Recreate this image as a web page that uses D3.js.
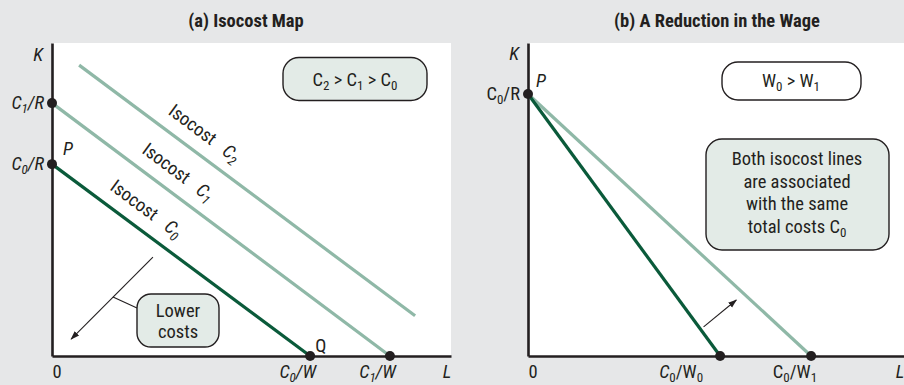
<!DOCTYPE html>
<html><head><meta charset="utf-8">
<script src="https://cdn.jsdelivr.net/npm/d3@7"></script>
<style>
html,body{margin:0;padding:0;background:#e6e7e8;}
text{font-family:"Liberation Sans Narrow","Roboto Condensed","DejaVu Sans Condensed","Arial Narrow",sans-serif;fill:#231f20;}
</style></head>
<body><svg id="c" width="904" height="385"></svg>
<script>
// ---------- data ----------
const titles = ["(a) Isocost Map", "(b) A Reduction in the Wage"];
// Panel (a): isocost lines C0, C1, C2 (K and L intercepts, drawn segment)
const isoIndex = ["0", "1", "2"];
const kIntercepts = [6.13, 8.08, 9.94];
const lIntercepts = [6.47, 8.47, 10.45];
const segStartL = [0, 0, 0.68];
const segEndL = [6.47, 8.47, 9.10];
const labelStartL = [1.22, 2.02, 2.68];
const dotKs = [6.13, 8.08];
const dotLs = [6.47, 8.47];
// Panel (b): wage reduction
const kInterceptB = 8.37;
const lInterceptsB = [5.11, 7.53];
const wageIndex = ["0", "1"];
const boxTextB = ["Both isocost lines", "are associated", "with the same", "total costs C"];
const lowerCostsText = ["Lower", "costs"];
// arrows (data coords): [fromL, fromK, toL, toK]
const arrowA = [2.53, 3.16, 0.48, 0.54];
const arrowB = [4.67, 0.93, 5.54, 1.79];

// ---------- setup ----------
const svg = d3.select("#c");
const DARK = "#0a5a3a", LIGHT = "#8fb8a7", INK = "#231f20", BOXFILL = "#e3ebe7";
const FS = 18.5, SFS = 13;
svg.append("rect").attr("width", 904).attr("height", 385).attr("fill", "#e6e7e8");

const xA = d3.scaleLinear().domain([0, 10]).range([52, 451]);
const xB = d3.scaleLinear().domain([0, 10]).range([528, 904]);
const y = d3.scaleLinear().domain([0, 10]).range([356, 43]);

svg.append("defs").append("marker").attr("id", "ah")
  .attr("viewBox", "0 0 10 10").attr("refX", 9).attr("refY", 5)
  .attr("markerWidth", 9).attr("markerHeight", 9).attr("markerUnits", "userSpaceOnUse")
  .attr("orient", "auto")
  .append("path").attr("d", "M0,1.5L10,5L0,8.5Z").attr("fill", INK);

// white plot areas
[xA, xB].forEach(x => {
  svg.append("rect").attr("x", x(0)).attr("y", y(10))
    .attr("width", x(10) - x(0)).attr("height", y(0) - y(10)).attr("fill", "#fff");
});

// titles
svg.append("text").attr("x", 246).attr("y", 27).attr("text-anchor", "middle")
  .attr("font-size", 18.5).attr("font-weight", "bold").text(titles[0]);
svg.append("text").attr("x", 717).attr("y", 27).attr("text-anchor", "middle")
  .attr("font-size", 18.5).attr("font-weight", "bold").text(titles[1]);

// ---------- Panel (a) ----------
const gA = svg.append("g");
isoIndex.forEach((c, i) => {
  const slope = -kIntercepts[i] / lIntercepts[i];
  const k = L => kIntercepts[i] + slope * L;
  gA.append("line")
    .attr("x1", xA(segStartL[i])).attr("y1", y(k(segStartL[i])))
    .attr("x2", xA(segEndL[i])).attr("y2", y(k(segEndL[i])))
    .attr("stroke", i === 0 ? DARK : LIGHT).attr("stroke-width", 3.2);
  const ang = Math.atan2(y(k(10)) - y(k(0)), xA(10) - xA(0));
  const deg = ang * 180 / Math.PI;
  const px = xA(labelStartL[i]) + Math.sin(ang) * 14;
  const py = y(k(labelStartL[i])) - Math.cos(ang) * 14;
  const t = gA.append("text").attr("font-size", FS)
    .attr("transform", `translate(${px},${py}) rotate(${deg})`);
  t.append("tspan").text("Isocost");
  t.append("tspan").attr("dx", 13).attr("font-style", "italic").text("C");
  t.append("tspan").attr("dy", 4).attr("font-size", SFS).attr("font-style", "italic").text(c);
});

// axes
gA.append("g").attr("transform", `translate(0,${y(0)})`)
  .call(d3.axisBottom(xA).tickValues([]).tickSizeOuter(0));
gA.append("g").attr("transform", `translate(${xA(0)},0)`)
  .call(d3.axisLeft(y).tickValues([]).tickSizeOuter(0));
svg.append("g").attr("transform", `translate(0,${y(0)})`)
  .call(d3.axisBottom(xB).tickValues([]).tickSizeOuter(0));
svg.append("g").attr("transform", `translate(${xB(0)},0)`)
  .call(d3.axisLeft(y).tickValues([]).tickSizeOuter(0));
svg.selectAll(".domain").attr("stroke", INK).attr("stroke-width", 2.6);

dotKs.forEach(k => gA.append("circle").attr("cx", xA(0)).attr("cy", y(k)).attr("r", 5).attr("fill", INK));
dotLs.forEach(l => gA.append("circle").attr("cx", xA(l)).attr("cy", y(0)).attr("r", 5).attr("fill", INK));

gA.append("text").attr("x", xA(0) - 9).attr("y", 61).attr("text-anchor", "end")
  .attr("font-size", FS).attr("font-style", "italic").text("K");
dotKs.forEach((k, i) => {
  const t = gA.append("text").attr("x", xA(0) - 8).attr("y", y(k) + 6).attr("text-anchor", "end")
    .attr("font-size", FS).attr("font-style", "italic");
  t.append("tspan").text("C");
  t.append("tspan").attr("dy", 4).attr("font-size", SFS).text(isoIndex[i]);
  t.append("tspan").attr("dy", -4).text("/R");
});
dotLs.forEach((l, i) => {
  const t = gA.append("text").attr("x", xA(l) + 6).attr("y", 378).attr("text-anchor", "end")
    .attr("font-size", FS).attr("font-style", "italic");
  t.append("tspan").text("C");
  t.append("tspan").attr("dy", 4).attr("font-size", SFS).text(isoIndex[i]);
  t.append("tspan").attr("dy", -4).text("/W");
});
gA.append("text").attr("x", xA(0) + 5).attr("y", 378).attr("text-anchor", "middle").attr("font-size", FS).text("0");
gA.append("text").attr("x", xA(10) - 4).attr("y", 378).attr("text-anchor", "middle").attr("font-size", FS).attr("font-style", "italic").text("L");
gA.append("text").attr("x", xA(0) + 11).attr("y", y(dotKs[0]) - 9).attr("font-size", FS).attr("font-style", "italic").text("P");
gA.append("text").attr("x", xA(dotLs[0]) + 5).attr("y", y(0) - 4).attr("font-size", FS).text("Q");

// C2 > C1 > C0 box
gA.append("rect").attr("x", 283).attr("y", 57.5).attr("width", 144).attr("height", 43).attr("rx", 16)
  .attr("fill", BOXFILL).attr("stroke", INK).attr("stroke-width", 1.4);
{
  const t = gA.append("text").attr("x", 355).attr("y", 86).attr("text-anchor", "middle").attr("font-size", FS);
  [2, 1, 0].forEach((n, j) => {
    t.append("tspan").attr("dy", j === 0 ? 0 : -4).text((j === 0 ? "" : " > ") + "C");
    t.append("tspan").attr("dy", 4).attr("font-size", SFS).text(isoIndex[n]);
  });
}

// Lower costs arrow & box
gA.append("line").attr("x1", xA(arrowA[0])).attr("y1", y(arrowA[1]))
  .attr("x2", xA(arrowA[2])).attr("y2", y(arrowA[3]))
  .attr("stroke", INK).attr("stroke-width", 1.1).attr("marker-end", "url(#ah)");
gA.append("line").attr("x1", 113).attr("y1", 297).attr("x2", 137).attr("y2", 308)
  .attr("stroke", INK).attr("stroke-width", 1.1);
gA.append("rect").attr("x", 137).attr("y", 294).attr("width", 82).attr("height", 53).attr("rx", 14)
  .attr("fill", BOXFILL).attr("stroke", INK).attr("stroke-width", 1.4);
lowerCostsText.forEach((s, i) => gA.append("text").attr("x", 178).attr("y", 317 + i * 21)
  .attr("text-anchor", "middle").attr("font-size", FS).text(s));

// ---------- Panel (b) ----------
const gB = svg.append("g");
[1, 0].forEach(i => {
  gB.append("line").attr("x1", xB(0)).attr("y1", y(kInterceptB))
    .attr("x2", xB(lInterceptsB[i])).attr("y2", y(0))
    .attr("stroke", i === 0 ? DARK : LIGHT).attr("stroke-width", 3.2);
});
gB.append("circle").attr("cx", xB(0)).attr("cy", y(kInterceptB)).attr("r", 5).attr("fill", INK);
lInterceptsB.forEach(l => gB.append("circle").attr("cx", xB(l)).attr("cy", y(0)).attr("r", 5).attr("fill", INK));

gB.append("text").attr("x", xB(0) - 9).attr("y", 60).attr("text-anchor", "end")
  .attr("font-size", FS).attr("font-style", "italic").text("K");
{
  const t = gB.append("text").attr("x", xB(0) - 8).attr("y", y(kInterceptB) + 6).attr("text-anchor", "end").attr("font-size", FS);
  t.append("tspan").text("C");
  t.append("tspan").attr("dy", 4).attr("font-size", SFS).text("0");
  t.append("tspan").attr("dy", -4).text("/R");
}
gB.append("text").attr("x", xB(0) + 8).attr("y", y(kInterceptB) - 7).attr("font-size", FS).attr("font-style", "italic").text("P");
lInterceptsB.forEach((l, i) => {
  const t = gB.append("text").attr("x", xB(l) + 6 - (i === 0 ? 23 : 0)).attr("y", 378).attr("text-anchor", "end").attr("font-size", FS);
  t.append("tspan").attr("font-style", i === 0 ? "italic" : "normal").text("C");
  t.append("tspan").attr("dy", 4).attr("font-size", SFS).text("0");
  t.append("tspan").attr("dy", -4).text("/W");
  t.append("tspan").attr("dy", 4).attr("font-size", SFS).text(wageIndex[i]);
});
gB.append("text").attr("x", xB(0) + 5).attr("y", 378).attr("text-anchor", "middle").attr("font-size", FS).text("0");
gB.append("text").attr("x", xB(10) - 4).attr("y", 378).attr("text-anchor", "middle").attr("font-size", FS).attr("font-style", "italic").text("L");

// W0 > W1 box
gB.append("rect").attr("x", 722).attr("y", 62).attr("width", 139).attr("height", 38).attr("rx", 16)
  .attr("fill", "#fff").attr("stroke", INK).attr("stroke-width", 1.4);
{
  const t = gB.append("text").attr("x", 791).attr("y", 87).attr("text-anchor", "middle").attr("font-size", FS);
  t.append("tspan").text("W");
  t.append("tspan").attr("dy", 4).attr("font-size", SFS).text(wageIndex[0]);
  t.append("tspan").attr("dy", -4).text(" > W");
  t.append("tspan").attr("dy", 4).attr("font-size", SFS).text(wageIndex[1]);
}
// Both isocost lines box
gB.append("rect").attr("x", 706).attr("y", 139).attr("width", 183).attr("height", 111).attr("rx", 16)
  .attr("fill", BOXFILL).attr("stroke", INK).attr("stroke-width", 1.4);
boxTextB.forEach((s, i) => {
  const t = gB.append("text").attr("x", 797).attr("y", 165 + i * 22.5).attr("text-anchor", "middle").attr("font-size", FS);
  t.append("tspan").text(s);
  if (i === boxTextB.length - 1) t.append("tspan").attr("dy", 4).attr("font-size", SFS).text("0");
});
gB.append("line").attr("x1", xB(arrowB[0])).attr("y1", y(arrowB[1]))
  .attr("x2", xB(arrowB[2])).attr("y2", y(arrowB[3]))
  .attr("stroke", INK).attr("stroke-width", 1.1).attr("marker-end", "url(#ah)");
</script></body></html>
